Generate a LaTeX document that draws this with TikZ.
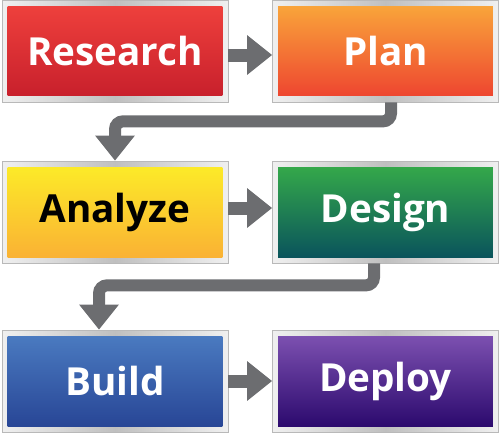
\documentclass[tikz,border=0pt]{standalone}
\usepackage{fontspec}
\setmainfont{Open Sans}
\usepackage{tikz}
\usetikzlibrary{arrows.meta}
\definecolor{arrowgray}{RGB}{108,109,112}
\definecolor{resTop}{RGB}{238,64,60}
\definecolor{resBot}{RGB}{200,32,44}
\definecolor{planTop}{RGB}{249,164,58}
\definecolor{planBot}{RGB}{238,70,48}
\definecolor{anaTop}{RGB}{252,234,40}
\definecolor{anaBot}{RGB}{250,178,52}
\definecolor{desTop}{RGB}{52,168,74}
\definecolor{desBot}{RGB}{10,84,92}
\definecolor{bldTop}{RGB}{74,122,192}
\definecolor{bldBot}{RGB}{40,70,150}
\definecolor{depTop}{RGB}{124,80,176}
\definecolor{depBot}{RGB}{44,10,110}
\begin{document}
\begin{tikzpicture}[x=0.02cm, y=-0.02cm]
    \useasboundingbox (0,0) rectangle (500,434);
    \begin{scope}[frame/.style={rectangle, inner sep=0, minimum width=4.52cm, minimum height=2.04cm, draw=gray!55, line width=0.4pt, left color=gray!12, right color=gray!12, middle color=gray!50}, stage/.style={rectangle, inner sep=0, minimum width=4.3cm, minimum height=1.8cm, font=\fontsize{22}{22}\selectfont\bfseries}, flow/.style={arrowgray, line width=0.26cm, -{Triangle[length=0.5cm, width=0.76cm]}}, elbow/.style={flow, line width=0.24cm, rounded corners=0.16cm}]
      \foreach \n/\x/\y/\t/\ct/\cb/\tc in {research/115/51/Research/resTop/resBot/white, plan/385.5/51/Plan/planTop/planBot/white, analyze/115/212/Analyze/anaTop/anaBot/black, design/385.5/212/Design/desTop/desBot/white, build/115/381/Build/bldTop/bldBot/white, deploy/385.5/381/Deploy/depTop/depBot/white} {
        \node [frame] (\n) at (\x,\y) {};
        \node [stage, top color=\ct, bottom color=\cb, text=\tc] (\n txt) at (\n) {\t};
      }
      \draw [flow] ([yshift=-0.08cm]research.east) -- ([yshift=-0.08cm]plan.west);
      \draw [flow] ([yshift=0.08cm]analyze.east) -- ([yshift=0.08cm]design.west);
      \draw [flow] (build.east) -- (deploy.west);
      \draw [elbow] ([xshift=0.11cm]plan.south) -- ++(0,19) -| (analyze.north);
      \draw [elbow] ([xshift=-0.23cm]design.south) -- ++(0,22) -| ([xshift=-0.32cm]build.north);
    \end{scope}
  \end{tikzpicture}
\end{document}
